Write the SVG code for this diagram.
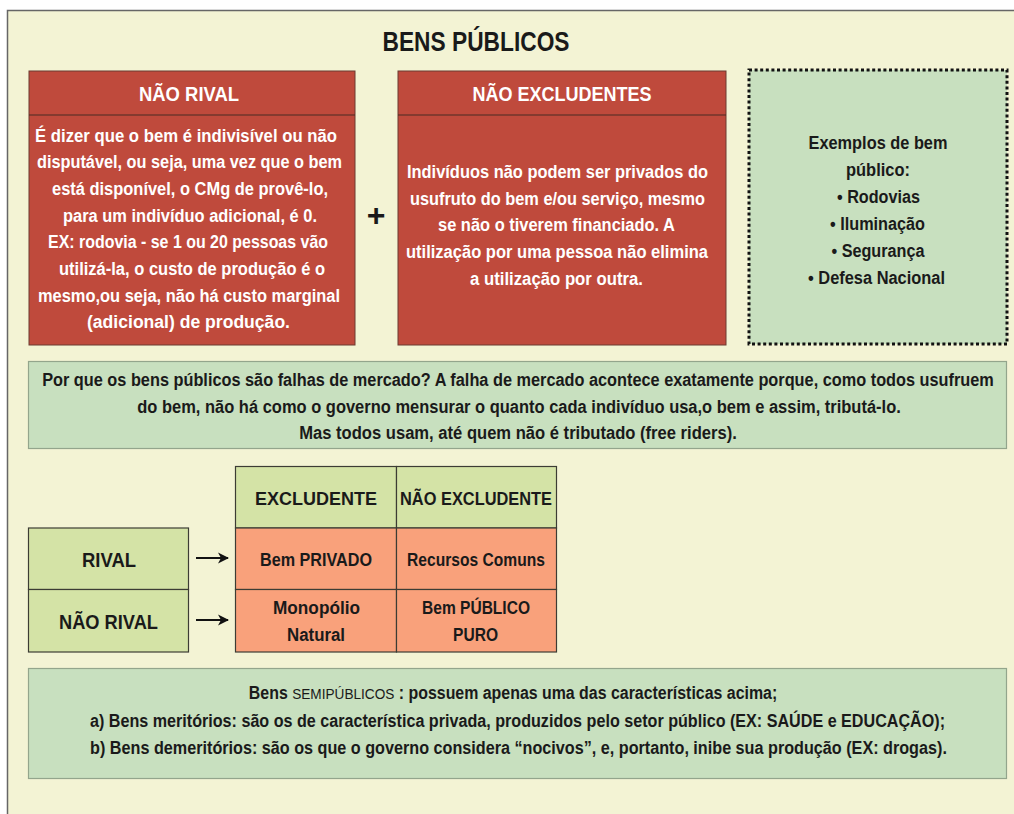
<svg xmlns="http://www.w3.org/2000/svg" width="1014" height="814" viewBox="0 0 1014 814">
<defs>
<style>
.t{font-family:"Liberation Sans","Open Sans",sans-serif;font-weight:bold;text-anchor:middle}
.w{fill:#ffffff}
.d{fill:#1a1a1a}
.body{font-size:17.5px}
.hdr{font-size:21px}
.cell{font-size:18px}
.red{fill:#BF4A3C;stroke:#6b3a30;stroke-width:1}
.grn{fill:#C8E0BF;stroke:#93a58c;stroke-width:1.2}
.lg{fill:#D4E3A6;stroke:#3c3c34;stroke-width:1.2}
.sal{fill:#F9A17B;stroke:#3c3c34;stroke-width:1.2}
.arrow{stroke:#111;stroke-width:2;fill:none}
</style>
<marker id="ah" markerWidth="12" markerHeight="12" refX="10" refY="6" orient="auto" markerUnits="userSpaceOnUse">
<path d="M0,0.5 L11,6 L0,11.5 L3,6 z" fill="#111"/>
</marker>
</defs>

<rect x="7.5" y="10.5" width="1020" height="820" fill="#F3F3D4" stroke="#666" stroke-width="1.5"/>

<g id="title">
<text class="t d" x="476" y="51" font-size="27" textLength="187" lengthAdjust="spacingAndGlyphs">BENS PÚBLICOS</text>
</g>

<g id="nao-rival">
<rect class="red" x="29" y="71" width="326" height="274"/>
<line x1="29" y1="115" x2="355" y2="115" stroke="#4a2a22" stroke-width="1.2"/>
<text class="t w hdr" x="189" y="101" textLength="100" lengthAdjust="spacingAndGlyphs">NÃO RIVAL</text>
<text class="t w body" x="186" y="141.5" textLength="302" lengthAdjust="spacingAndGlyphs">É dizer que o bem é indivisível ou não</text>
<text class="t w body" x="189.5" y="168.2" textLength="305" lengthAdjust="spacingAndGlyphs">disputável, ou seja, uma vez que o bem</text>
<text class="t w body" x="190" y="194.9" textLength="276" lengthAdjust="spacingAndGlyphs">está disponível, o CMg de provê-lo,</text>
<text class="t w body" x="190" y="221.6" textLength="254" lengthAdjust="spacingAndGlyphs">para um indivíduo adicional, é 0.</text>
<text class="t w body" x="188" y="248.3" textLength="280" lengthAdjust="spacingAndGlyphs">EX: rodovia - se 1 ou 20 pessoas vão</text>
<text class="t w body" x="192" y="275" textLength="266" lengthAdjust="spacingAndGlyphs">utilizá-la, o custo de produção é o</text>
<text class="t w body" x="189" y="301.7" textLength="302" lengthAdjust="spacingAndGlyphs">mesmo,ou seja, não há custo marginal</text>
<text class="t w body" x="188.5" y="328.4" textLength="203" lengthAdjust="spacingAndGlyphs">(adicional) de produção.</text>
</g>

<g id="plus">
<text class="t d" x="376" y="226" font-size="32">+</text>
</g>

<g id="nao-excludentes">
<rect class="red" x="398" y="71" width="328" height="274"/>
<line x1="398" y1="115" x2="726" y2="115" stroke="#4a2a22" stroke-width="1.2"/>
<text class="t w hdr" x="562" y="101" textLength="179" lengthAdjust="spacingAndGlyphs">NÃO EXCLUDENTES</text>
<text class="t w body" x="557.5" y="178" textLength="301" lengthAdjust="spacingAndGlyphs">Indivíduos não podem ser privados do</text>
<text class="t w body" x="557.5" y="204.7" textLength="295" lengthAdjust="spacingAndGlyphs">usufruto do bem e/ou serviço, mesmo</text>
<text class="t w body" x="556.5" y="231.4" textLength="237" lengthAdjust="spacingAndGlyphs">se não o tiverem financiado. A</text>
<text class="t w body" x="557" y="258.1" textLength="302" lengthAdjust="spacingAndGlyphs">utilização por uma pessoa não elimina</text>
<text class="t w body" x="556.5" y="284.8" textLength="173" lengthAdjust="spacingAndGlyphs">a utilização por outra.</text>
</g>

<g id="exemplos">
<rect x="749" y="70" width="258" height="274" fill="#C8E0BF" stroke="#111" stroke-width="3" stroke-dasharray="3 2.6"/>
<text class="t d body" x="878" y="148.5" textLength="139" lengthAdjust="spacingAndGlyphs">Exemplos de bem</text>
<text class="t d body" x="878" y="175.5" textLength="64" lengthAdjust="spacingAndGlyphs">público:</text>
<text class="t d body" x="878.5" y="202.5" textLength="83" lengthAdjust="spacingAndGlyphs">• Rodovias</text>
<text class="t d body" x="877.5" y="229.5" textLength="95" lengthAdjust="spacingAndGlyphs">• Iluminação</text>
<text class="t d body" x="878" y="256.5" textLength="93" lengthAdjust="spacingAndGlyphs">• Segurança</text>
<text class="t d body" x="876.5" y="283.5" textLength="137" lengthAdjust="spacingAndGlyphs">• Defesa Nacional</text>
</g>

<g id="falhas">
<rect class="grn" x="28.5" y="361.5" width="978" height="87"/>
<text class="t d body" transform="translate(518 386) scale(0.84 1)" x="0" y="0" textLength="1133" lengthAdjust="spacingAndGlyphs">Por que os bens públicos são falhas de mercado? A falha de mercado acontece exatamente porque, como todos usufruem</text>
<text class="t d body" transform="translate(519 413) scale(0.84 1)" x="0" y="0" textLength="909" lengthAdjust="spacingAndGlyphs">do bem, não há como o governo mensurar o quanto cada indivíduo usa,o bem e assim, tributá-lo.</text>
<text class="t d body" transform="translate(518 439) scale(0.84 1)" x="0" y="0" textLength="521" lengthAdjust="spacingAndGlyphs">Mas todos usam, até quem não é tributado (free riders).</text>
</g>

<g id="tabela">
<g id="cell-excludente">
<rect class="lg" x="235.5" y="466.5" width="161" height="61.5"/>
<text class="t d cell" x="316" y="505" textLength="122" lengthAdjust="spacingAndGlyphs">EXCLUDENTE</text>
</g>
<g id="cell-nao-excludente">
<rect class="lg" x="396.5" y="466.5" width="160" height="61.5"/>
<text class="t d cell" x="476" y="505" textLength="152" lengthAdjust="spacingAndGlyphs">NÃO EXCLUDENTE</text>
</g>
<g id="cell-bem-privado">
<rect class="sal" x="235.5" y="528" width="161" height="61.5"/>
<text class="t d cell" x="316" y="566" font-size="17" textLength="112" lengthAdjust="spacingAndGlyphs">Bem PRIVADO</text>
</g>
<g id="cell-recursos-comuns">
<rect class="sal" x="396.5" y="528" width="160" height="61.5"/>
<text class="t d cell" x="476" y="566" font-size="17" textLength="138" lengthAdjust="spacingAndGlyphs">Recursos Comuns</text>
</g>
<g id="cell-monopolio">
<rect class="sal" x="235.5" y="589.5" width="161" height="62.5"/>
<text class="t d cell" x="316.5" y="614" font-size="17" textLength="87" lengthAdjust="spacingAndGlyphs">Monopólio</text>
<text class="t d cell" x="316" y="641" font-size="17" textLength="58" lengthAdjust="spacingAndGlyphs">Natural</text>
</g>
<g id="cell-bem-publico-puro">
<rect class="sal" x="396.5" y="589.5" width="160" height="62.5"/>
<text class="t d cell" x="476" y="614" font-size="17" textLength="108" lengthAdjust="spacingAndGlyphs">Bem PÚBLICO</text>
<text class="t d cell" x="475.5" y="641" font-size="17" textLength="45" lengthAdjust="spacingAndGlyphs">PURO</text>
</g>
</g>

<g id="rival">
<rect class="lg" x="28.5" y="528" width="160" height="61.5"/>
<text class="t d" x="109" y="567" font-size="20" textLength="54" lengthAdjust="spacingAndGlyphs">RIVAL</text>
</g>
<g id="nao-rival-linha">
<rect class="lg" x="28.5" y="589.5" width="160" height="62.5"/>
<text class="t d" x="108.5" y="629" font-size="20" textLength="99" lengthAdjust="spacingAndGlyphs">NÃO RIVAL</text>
</g>

<g id="connectors">
<line class="arrow" x1="196" y1="558" x2="228" y2="558" marker-end="url(#ah)"/>
<line class="arrow" x1="196" y1="620" x2="228" y2="620" marker-end="url(#ah)"/>
</g>

<g id="semipublicos">
<rect class="grn" x="28.5" y="668.5" width="978" height="110"/>
<text class="t d body" transform="translate(513 699) scale(0.84 1)" x="0" y="0" textLength="629" lengthAdjust="spacingAndGlyphs">Bens <tspan font-weight="normal" font-size="15">SEMIPÚBLICOS</tspan> : possuem apenas uma das características acima;</text>
<text class="t d body" transform="translate(517.5 726.5) scale(0.84 1)" x="0" y="0" textLength="1018" lengthAdjust="spacingAndGlyphs">a) Bens meritórios: são os de característica privada, produzidos pelo setor público (EX: SAÚDE e EDUCAÇÃO);</text>
<text class="t d body" transform="translate(518.5 753.5) scale(0.84 1)" x="0" y="0" textLength="1020" lengthAdjust="spacingAndGlyphs">b) Bens demeritórios: são os que o governo considera “nocivos”, e, portanto, inibe sua produção (EX: drogas).</text>
</g>
</svg>
